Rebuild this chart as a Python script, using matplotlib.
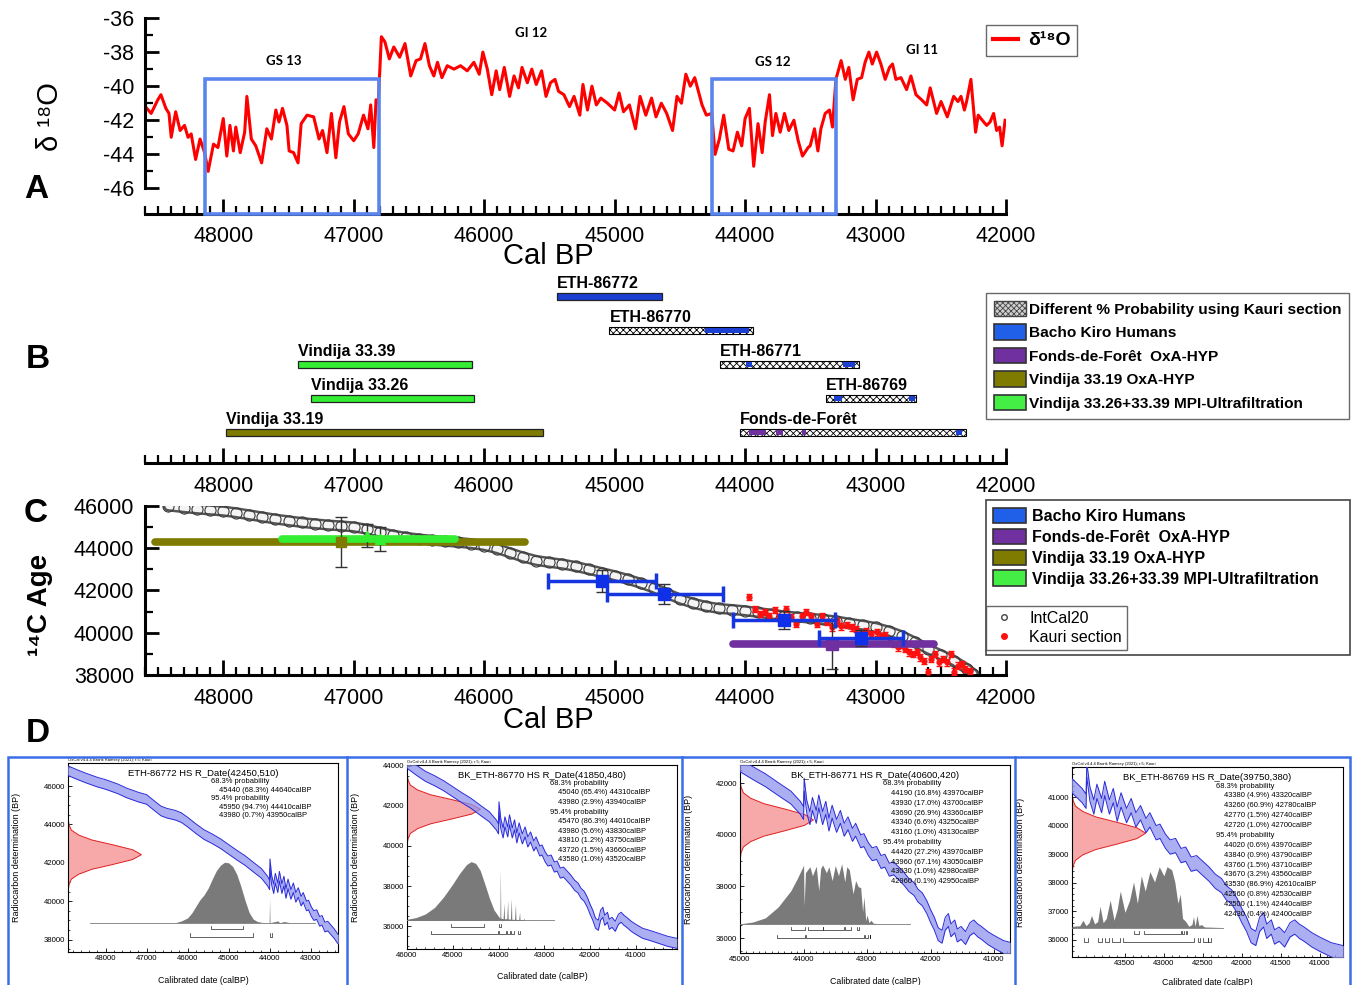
import numpy as np
import matplotlib
matplotlib.use("Agg")
import matplotlib.pyplot as plt
import matplotlib.transforms as mtransforms
from matplotlib.patches import Patch, Rectangle
from matplotlib.lines import Line2D
from matplotlib.ticker import FormatStrFormatter, MultipleLocator

plt.rcParams['font.family'] = ['Liberation Sans', 'DejaVu Sans']
plt.rcParams['axes.unicode_minus'] = False
plt.rcParams['hatch.linewidth'] = 0.6

W, H = 1354, 985

# ---------------- panel A: d18O record ----------------
D18O_RECORD = [
    (48597, -41.2), (48553, -41.6), (48502, -40.8), (48478, -40.5), (48440, -41.3), (48416, -41.6),
    (48399, -43.0), (48365, -41.5), (48331, -42.6), (48297, -42.3), (48270, -43.0), (48246, -42.8),
    (48212, -44.3), (48178, -43.1), (48143, -43.9), (48116, -45.0), (48075, -43.4), (48041, -43.6),
    (48000, -41.9), (47973, -44.1), (47949, -42.3), (47922, -43.8), (47904, -42.4), (47870, -43.9),
    (47836, -42.7), (47819, -40.6), (47785, -43.1), (47751, -43.5), (47706, -44.5), (47666, -42.5),
    (47631, -43.1), (47597, -41.4), (47573, -42.1), (47546, -41.3), (47512, -42.3), (47495, -43.8),
    (47461, -43.9), (47427, -44.5), (47403, -42.2), (47358, -41.7), (47307, -41.8), (47266, -43.1),
    (47239, -42.6), (47205, -43.9), (47171, -41.6), (47137, -44.2), (47109, -42.1), (47075, -41.2),
    (47041, -42.8), (47000, -43.2), (46966, -42.8), (46925, -41.7), (46891, -42.5), (46870, -41.1),
    (46846, -43.6), (46829, -40.8), (46812, -41.0), (46788, -37.1), (46761, -37.4), (46727, -38.4),
    (46693, -37.7), (46648, -38.3), (46607, -37.5), (46563, -39.4), (46522, -38.5), (46488, -38.4),
    (46454, -37.5), (46420, -38.8), (46386, -39.4), (46358, -38.6), (46324, -39.5), (46283, -38.8),
    (46232, -39.0), (46181, -38.8), (46130, -39.1), (46079, -38.6), (46038, -39.3), (46010, -38.0),
    (45976, -39.0), (45942, -40.5), (45908, -39.1), (45881, -40.2), (45846, -38.9), (45805, -40.6),
    (45771, -39.4), (45737, -40.1), (45710, -38.9), (45669, -39.8), (45635, -39.0), (45601, -39.9),
    (45560, -39.1), (45526, -40.6), (45492, -39.8), (45457, -39.6), (45430, -40.3), (45389, -40.5),
    (45346, -41.2), (45311, -40.6), (45267, -41.7), (45243, -39.9), (45208, -41.4), (45174, -40.0),
    (45140, -41.1), (45106, -40.7), (45055, -41.0), (45000, -41.4), (44966, -40.4), (44932, -41.5),
    (44887, -41.1), (44840, -42.5), (44805, -40.6), (44761, -41.7), (44717, -40.7), (44683, -41.8),
    (44642, -41.0), (44601, -41.6), (44556, -42.6), (44522, -40.6), (44488, -41.0), (44454, -39.3),
    (44420, -40.0), (44386, -39.5), (44330, -41.1), (44297, -41.7), (44256, -41.6), (44230, -44.0),
    (44197, -43.1), (44164, -41.7), (44125, -43.7), (44092, -43.8), (44059, -42.7), (44026, -43.5),
    (44000, -41.9), (43967, -41.3), (43934, -44.7), (43901, -42.2), (43869, -43.9), (43846, -42.1),
    (43813, -40.5), (43790, -42.9), (43764, -41.6), (43731, -42.7), (43698, -41.6), (43665, -42.6),
    (43626, -42.0), (43593, -43.2), (43560, -44.1), (43517, -43.6), (43501, -43.5), (43468, -42.5),
    (43442, -43.8), (43419, -42.5), (43386, -41.6), (43353, -41.4), (43330, -42.4), (43304, -39.6),
    (43264, -38.5), (43232, -39.6), (43205, -38.9), (43172, -40.8), (43140, -39.6), (43107, -39.5),
    (43080, -38.6), (43051, -38.0), (43025, -38.7), (42992, -38.0), (42959, -38.7), (42926, -39.6),
    (42893, -38.9), (42870, -38.7), (42844, -39.6), (42805, -39.5), (42762, -40.2), (42729, -39.4),
    (42690, -40.5), (42647, -40.8), (42608, -41.1), (42581, -40.1), (42532, -41.6), (42498, -40.9),
    (42450, -41.8), (42401, -40.6), (42368, -40.9), (42345, -40.6), (42319, -41.4), (42302, -40.9),
    (42269, -39.6), (42233, -42.7), (42213, -41.7), (42171, -42.1), (42148, -42.3), (42122, -42.1),
    (42095, -41.6), (42072, -42.6), (42049, -42.4), (42030, -43.5), (42007, -42.0),
]
d18o_year = [p[0] for p in D18O_RECORD]
d18o_val = [p[1] for p in D18O_RECORD]

stadial_start = [48140, 44250]
stadial_end = [46810, 43305]
stadial_top = -39.6
event_names = ['GS 13', 'GI 12', 'GS 12', 'GI 11']
event_year = [47540, 45640, 43790, 42640]
event_level = [-38.5, -36.9, -38.6, -37.9]

# ---------------- panel B: calibrated ranges ----------------
b_names = ['ETH-86772', 'ETH-86770', 'Vindija 33.39', 'ETH-86771',
           'Vindija 33.26', 'ETH-86769', 'Vindija 33.19', 'Fonds-de-Forêt']
b_old = [45440, 45040, 47430, 44190, 47330, 43380, 47980, 44040]
b_young = [44640, 43940, 46090, 43130, 46080, 42690, 45550, 42310]
b_row = [4, 3, 2, 2, 1, 1, 0, 0]
b_kind = ['bacho', 'kauri', 'mpi', 'kauri', 'mpi', 'kauri', 'v19', 'kauri']

seg_row = [3, 2, 2, 1, 1, 0, 0, 0, 0]
seg_old = [44310, 43990, 43250, 43320, 42740, 43970, 43760, 43560, 42380]
seg_young = [43970, 43950, 43160, 43260, 42700, 43840, 43710, 43530, 42340]
seg_kind = ['bacho', 'bacho', 'bacho', 'bacho', 'bacho', 'fonds', 'fonds', 'fonds', 'bacho']

# ---------------- panel C: IntCal20, Kauri and dated samples ----------------
INTCAL20 = [
    (48420, 46000, 280), (48300, 45920, 280), (48200, 45860, 280), (48100, 45810, 280),
    (48000, 45760, 280), (47900, 45680, 270), (47800, 45580, 270), (47700, 45480, 260),
    (47600, 45380, 260), (47500, 45300, 250), (47400, 45220, 250), (47300, 45160, 240),
    (47200, 45100, 240), (47100, 45060, 230), (47000, 45010, 230), (46900, 44900, 220),
    (46800, 44760, 210), (46700, 44620, 200), (46600, 44520, 190), (46500, 44440, 180),
    (46400, 44380, 170), (46300, 44330, 160), (46200, 44280, 150), (46100, 44220, 150),
    (46000, 44130, 140), (45900, 43980, 130), (45800, 43780, 130), (45700, 43580, 120),
    (45600, 43420, 120), (45500, 43330, 120), (45400, 43250, 120), (45300, 43140, 110),
    (45200, 43000, 110), (45100, 42850, 110), (45000, 42700, 110), (44900, 42530, 100),
    (44800, 42340, 100), (44700, 42120, 100), (44600, 41860, 100), (44500, 41600, 100),
    (44400, 41400, 100), (44300, 41250, 90), (44200, 41150, 90), (44100, 41100, 90),
    (44000, 41040, 90), (43900, 40960, 90), (43800, 40880, 90), (43700, 40800, 90),
    (43600, 40740, 90), (43500, 40690, 90), (43400, 40630, 90), (43300, 40560, 90),
    (43200, 40450, 90), (43100, 40360, 90), (43000, 40250, 90), (42900, 40080, 90),
    (42800, 39860, 90), (42700, 39560, 90), (42600, 39240, 90), (42500, 38960, 90),
    (42400, 38680, 90), (42300, 38300, 90), (42250, 38050, 90),
]
intcal_year = [p[0] for p in INTCAL20]
intcal_age = [p[1] for p in INTCAL20]
intcal_err = [p[2] for p in INTCAL20]

KAURI = [
    (43967, 41707), (43921, 41123), (43885, 40886), (43846, 40997), (43813, 40808), (43770, 41091),
    (43737, 40729), (43688, 41123), (43649, 40729), (43606, 40413), (43567, 40776), (43534, 40997),
    (43491, 40808), (43452, 40413), (43409, 40776), (43369, 40524), (43337, 40256), (43297, 40571),
    (43264, 40303), (43222, 40366), (43179, 40256), (43146, 40177), (43113, 39987), (43074, 40098),
    (43034, 39940), (42992, 40019), (42959, 39861), (42926, 39893), (42893, 39625), (42860, 39467),
    (42828, 39309), (42805, 39420), (42772, 39230), (42746, 39073), (42713, 38994), (42686, 39104),
    (42663, 38836), (42630, 38678), (42598, 38126), (42575, 38757), (42542, 38994), (42516, 38599),
    (42483, 38757), (42450, 38599), (42424, 38994), (42401, 38158), (42368, 38442), (42335, 38520),
    (42312, 38284), (42279, 38205),
]
kauri_year = [p[0] for p in KAURI]
kauri_age = [p[1] for p in KAURI]
kauri_err = 150

bacho_names = ['ETH-86772', 'ETH-86770', 'ETH-86771', 'ETH-86769']
bacho_age = [42450, 41850, 40600, 39750]
bacho_err = [510, 480, 420, 380]
bacho_cal = [45100, 44620, 43700, 43110]
bacho_cal_old = [45510, 45060, 44090, 43430]
bacho_cal_young = [44680, 44170, 43310, 42790]

v19_cal, v19_age, v19_err = 47100, 44290, 1190
v19_old, v19_young = 48520, 45690
mpi_cal = [46900, 46800]
mpi_age = [44600, 44450]
mpi_err = [560, 560]
mpi_old, mpi_young, mpi_level = 47550, 46220, 44460
fonds_cal, fonds_age, fonds_err = 43330, 39470, 1170
fonds_old, fonds_young = 44090, 42550

# ---------------- panel D: OxCal calibrations ----------------
CAL_CURVE = [
    (49000, 46870), (48700, 46600), (48500, 46430), (48200, 46200), (48000, 46080), (47700, 45850),
    (47500, 45650), (47200, 45420), (47000, 45300), (46800, 44950), (46650, 44700), (46500, 44580),
    (46300, 44480), (46150, 44350), (46000, 44120), (45800, 43780), (45600, 43470), (45400, 43250),
    (45200, 43000), (45000, 42700), (44800, 42400), (44600, 42120), (44400, 41780), (44200, 41450),
    (44050, 41050), (44000, 40850), (43990, 41950), (43950, 41100), (43900, 40650), (43860, 41200),
    (43800, 40700), (43760, 41300), (43700, 40650), (43650, 41050), (43600, 40400), (43550, 40900),
    (43480, 40350), (43420, 40700), (43360, 40200), (43300, 40450), (43230, 40000), (43180, 40200),
    (43100, 39750), (43050, 39800), (42980, 39450), (42920, 39250), (42850, 39300), (42780, 38950),
    (42720, 39000), (42650, 38650), (42580, 38700), (42500, 38500), (42420, 38300), (42340, 38050),
    (42260, 37900), (42200, 37650), (42130, 37500), (42060, 37200), (42000, 36850), (41940, 36550),
    (41880, 36150), (41820, 36050), (41770, 36550), (41720, 36700), (41680, 36300), (41620, 36450),
    (41580, 36100), (41520, 36200), (41450, 36000), (41380, 36350), (41320, 36450), (41260, 36300),
    (41200, 36200), (41100, 36000), (41000, 35850), (40850, 35650), (40700, 35550), (40500, 35400),
    (40300, 35250), (40100, 35150),
]
cal_year = np.array([p[0] for p in CAL_CURVE])
cal_age = np.array([p[1] for p in CAL_CURVE])
cal_sigma = 250

# shape of the radiocarbon likelihood (offset in sigma, relative height)
red_offset = [-3.4, -3.0, -2.5, -2.0, -1.5, -1.0, -0.5, 0.0, 0.5, 1.0, 1.5, 2.0, 2.5, 3.0, 3.4]
red_height = [0.0, 0.01, 0.04, 0.14, 0.32, 0.61, 0.88, 1.0, 0.88, 0.61, 0.32, 0.14, 0.04, 0.01, 0.0]

POST_1 = [(48390, 0), (46300, 0), (46150, 0.03), (46000, 0.08), (45900, 0.16), (45800, 0.27),
          (45700, 0.38), (45600, 0.46), (45500, 0.57), (45400, 0.72), (45300, 0.86), (45200, 0.95),
          (45100, 1.0), (45000, 0.99), (44900, 0.93), (44800, 0.8), (44700, 0.6), (44600, 0.37),
          (44500, 0.17), (44400, 0.06), (44300, 0.02), (44150, 0.0), (44010, 0.0), (44000, 0.4),
          (43990, 0.0), (43800, 0.03), (43750, 0.0), (43650, 0.02), (43500, 0.0), (42900, 0.0)]
POST_2 = [(46000, 0.02), (45800, 0.05), (45600, 0.11), (45400, 0.22), (45200, 0.4), (45000, 0.62),
          (44850, 0.8), (44700, 0.95), (44600, 1.0), (44500, 0.97), (44400, 0.85), (44300, 0.62),
          (44200, 0.38), (44100, 0.18), (44000, 0.07), (43970, 0.04), (43960, 0.88), (43950, 0.04),
          (43900, 0.03), (43880, 0.3), (43870, 0.03), (43820, 0.03), (43800, 0.35), (43790, 0.03),
          (43740, 0.02), (43720, 0.38), (43710, 0.02), (43650, 0.02), (43630, 0.28), (43620, 0.02),
          (43560, 0.01), (43540, 0.14), (43530, 0.01), (43450, 0.01), (43440, 0.05), (43430, 0.0),
          (43300, 0.0), (43290, 0.02), (43280, 0.0), (42790, 0.0)]
POST_3 = [(45000, 0.0), (44800, 0.03), (44600, 0.1), (44400, 0.28), (44200, 0.55), (44100, 0.75),
          (44010, 0.95), (44000, 0.98), (43990, 0.3), (43970, 0.85), (43900, 0.95), (43860, 0.8),
          (43800, 0.96), (43760, 0.55), (43730, 0.92), (43700, 0.98), (43640, 0.85), (43600, 0.95),
          (43550, 0.72), (43500, 0.97), (43450, 0.8), (43400, 1.0), (43350, 0.7), (43320, 0.95),
          (43280, 0.9), (43220, 0.5), (43180, 0.72), (43140, 0.62), (43100, 0.6), (43070, 0.2),
          (43050, 0.45), (43020, 0.05), (43000, 0.15), (42970, 0.02), (42940, 0.06), (42900, 0.01),
          (42800, 0.0), (42330, 0.0)]
POST_4 = [(44180, 0.02), (44080, 0.03), (44040, 0.12), (44000, 0.03), (43960, 0.08), (43930, 0.2),
          (43890, 0.06), (43850, 0.1), (43820, 0.35), (43780, 0.08), (43740, 0.15), (43690, 0.45),
          (43640, 0.12), (43600, 0.3), (43560, 0.6), (43500, 0.25), (43440, 0.45), (43390, 0.75),
          (43340, 0.4), (43290, 0.85), (43240, 0.6), (43180, 0.92), (43120, 0.75), (43060, 1.0),
          (43000, 0.85), (42960, 1.0), (42900, 0.95), (42860, 0.75), (42820, 0.4), (42790, 0.55),
          (42760, 0.15), (42720, 0.1), (42680, 0.02), (42640, 0.05), (42620, 0.18), (42600, 0.02),
          (42575, 0.2), (42550, 0.03), (42520, 0.05), (42480, 0.01), (42240, 0.0)]

d_titles = ['ETH-86772', 'BK_ETH-86770', 'BK_ETH-86771', 'BK_ETH-86769']
d_r68 = [
    [(45440, '68.3', 44640)],
    [(45040, '65.4', 44310), (43980, '2.9', 43940)],
    [(44190, '16.8', 43970), (43930, '17.0', 43700), (43690, '26.9', 43360), (43340, '6.6', 43250),
     (43160, '1.0', 43130)],
    [(43380, '4.9', 43320), (43260, '60.9', 42780), (42770, '1.5', 42740), (42720, '1.0', 42700)],
]
d_r95 = [
    [(45950, '94.7', 44410), (43980, '0.7', 43950)],
    [(45470, '86.3', 44010), (43980, '5.6', 43830), (43810, '1.2', 43750), (43720, '1.5', 43660),
     (43580, '1.0', 43520)],
    [(44420, '27.2', 43970), (43960, '67.1', 43050), (43030, '1.0', 42980), (42960, '0.1', 42950)],
    [(44020, '0.6', 43970), (43840, '0.9', 43790), (43760, '1.5', 43710), (43670, '3.2', 43560),
     (43530, '86.9', 42610), (42560, '0.8', 42530), (42500, '1.1', 42440), (42430, '0.4', 42400)],
]
d_posterior = [POST_1, POST_2, POST_3, POST_4]
d_xlim = [(48920, 42330), (46000, 40100), (45000, 40750), (44180, 40700)]
d_ylim = [(37350, 47200), (34870, 44030), (35420, 42710), (35400, 42050)]
d_xticks = [range(48000, 42999, -1000), range(46000, 40999, -1000),
            range(45000, 40999, -1000), range(43500, 40999, -500)]
d_yticks = [range(38000, 46001, 2000), range(36000, 44001, 2000),
            range(36000, 42001, 2000), range(36000, 41001, 1000)]

COL = {'bacho': '#1c3fd3', 'fonds': '#7030a0', 'v19': '#7f7a00', 'mpi': '#33ee33'}
LEG_COL = {'bacho': '#2060e8', 'fonds': '#7030a0', 'v19': '#7f7a00', 'mpi': '#44ee44'}


fig = plt.figure(figsize=(W / 100, H / 100), dpi=100)


def px_axes(left, top, right, bottom):
    return fig.add_axes([left / W, 1 - bottom / H, (right - left) / W, (bottom - top) / H])


def ftext(x, y, s, **kw):
    return fig.text(x / W, 1 - y / H, s, **kw)


def time_axis(ax):
    ax.set_xlim(48600, 42000)
    ax.set_xticks(range(48000, 41999, -1000))
    ax.set_xticks(np.arange(48600, 41999, -100), minor=True)
    ax.xaxis.set_major_formatter(FormatStrFormatter('%d'))
    ax.tick_params(axis='x', which='major', direction='in', length=11, width=2, labelsize=15.5, pad=9)
    ax.tick_params(axis='x', which='minor', direction='in', length=6, width=1.6)
    ax.spines['bottom'].set_linewidth(2.2)
    for s in ['top', 'right']:
        ax.spines[s].set_visible(False)


# ---- A ----
axA = px_axes(145, 18, 1006, 214)
axA.plot(d18o_year, d18o_val, color='#ff0000', lw=2.2, zorder=2)
for s, e in zip(stadial_start, stadial_end):
    axA.add_patch(Rectangle((e, -47.5), s - e, stadial_top + 47.5, fill=False,
                            edgecolor='#5a85ee', lw=2.6, zorder=3, clip_on=False))
for name, x, y in zip(event_names, event_year, event_level):
    axA.text(x, y, name, ha='center', va='center', fontsize=9.5, fontweight='bold', family='Lato')
time_axis(axA)
axA.set_ylim(-47.5, -36)
axA.spines['left'].set_bounds(-46, -36)
axA.spines['left'].set_linewidth(2.2)
axA.set_yticks(range(-46, -35, 2))
axA.set_yticks(range(-45, -36, 2), minor=True)
axA.tick_params(axis='y', which='major', direction='in', length=10, width=2, labelsize=15.5, pad=8)
axA.tick_params(axis='y', which='minor', direction='in', length=6, width=1.6)
ftext(50, 117, 'δ ¹⁸O', rotation=90, ha='center', va='center', fontsize=21)
ftext(548, 256, 'Cal BP', ha='center', va='center', fontsize=21)

fig.legend([Line2D([], [], color='#ff0000', lw=3)], ['δ¹⁸O'], loc='upper left',
           bbox_to_anchor=(986 / W, 1 - 25 / H), borderaxespad=0, frameon=True, fancybox=False,
           edgecolor='#444444', handlelength=1.3, prop={'weight': 'bold', 'size': 14},
           borderpad=0.35, handletextpad=0.5)

# ---- B ----
axB = px_axes(145, 276, 1006, 463)
for name, old, young, row, kind in zip(b_names, b_old, b_young, b_row, b_kind):
    if kind == 'kauri':
        axB.barh(row, young - old, left=old, height=0.2, color='white', edgecolor='black',
                 hatch='xxxxx', lw=0.8, zorder=2)
    else:
        axB.barh(row, young - old, left=old, height=0.2, color=COL[kind], edgecolor='#222222',
                 lw=0.9, zorder=2)
    axB.text(old, row + 0.38, name, ha='left', va='center', fontsize=11.5, fontweight='bold')
for row, old, young, kind in zip(seg_row, seg_old, seg_young, seg_kind):
    axB.barh(row, young - old, left=old, height=0.16, color=COL[kind], edgecolor='none', zorder=3)
time_axis(axB)
axB.set_ylim(-0.9, 4.6)
axB.spines['left'].set_visible(False)
axB.set_yticks([])

kauri_patch = Patch(facecolor='#cfcfcf', edgecolor='#444444', hatch='xxxxxx', lw=1)
legB_handles = [kauri_patch] + [Patch(facecolor=LEG_COL[k], edgecolor='#333333', lw=1.2)
                                for k in ['bacho', 'fonds', 'v19', 'mpi']]
legB_labels = ['Different % Probability using Kauri section', 'Bacho Kiro Humans',
               'Fonds-de-Forêt  OxA-HYP', 'Vindija 33.19 OxA-HYP',
               'Vindija 33.26+33.39 MPI-Ultrafiltration']
fig.legend(legB_handles, legB_labels, loc='upper left', bbox_to_anchor=(986 / W, 1 - 293 / H),
           borderaxespad=0, frameon=True, fancybox=False, edgecolor='#444444',
           prop={'weight': 'bold', 'size': 11.1}, handlelength=2.1, handleheight=1.15,
           handletextpad=0.2, labelspacing=0.5, borderpad=0.5)

# ---- C ----
axC = px_axes(145, 506, 1006, 675)
axC.errorbar(intcal_year, intcal_age, yerr=intcal_err, fmt='none', ecolor='#9a9a9a',
             elinewidth=0.6, zorder=1)
axC.plot(intcal_year, intcal_age, color='#555555', lw=8, solid_capstyle='round', zorder=2)
axC.plot(intcal_year, intcal_age, color='#f4f4f4', lw=4.5, solid_capstyle='round', zorder=2)
axC.plot(intcal_year, intcal_age, ls='none', marker='o', ms=8, mfc='none', mec='#3a3a3a',
         mew=0.8, zorder=2)
axC.errorbar(kauri_year, kauri_age, yerr=kauri_err, fmt='o', ms=3.5, color='#ff1010',
             ecolor='#ff1010', elinewidth=1, capsize=2, zorder=4)

axC.plot([v19_old, v19_young], [v19_age, v19_age], color=COL['v19'], lw=5.5,
         solid_capstyle='round', zorder=5)
axC.errorbar([v19_cal], [v19_age], yerr=[v19_err], fmt='s', ms=7, color=COL['v19'],
             ecolor='#333333', elinewidth=1, capsize=4, zorder=6)
axC.plot([mpi_old, mpi_young], [mpi_level, mpi_level], color=COL['mpi'], lw=5.5,
         solid_capstyle='round', zorder=5)
axC.errorbar(mpi_cal, mpi_age, yerr=mpi_err, fmt='^', ms=7, color=COL['mpi'],
             ecolor='#333333', elinewidth=1, capsize=4, zorder=6)
axC.plot([fonds_old, fonds_young], [fonds_age, fonds_age], color=COL['fonds'], lw=5.5,
         solid_capstyle='round', zorder=5)
axC.errorbar([fonds_cal], [fonds_age], yerr=[fonds_err], fmt='s', ms=8, color=COL['fonds'],
             ecolor='#333333', elinewidth=1, capsize=4, zorder=6)

bc = np.array(bacho_cal)
lo = bc - np.minimum(bacho_cal_old, bacho_cal_young)
hi = np.maximum(bacho_cal_old, bacho_cal_young) - bc
axC.errorbar(bacho_cal, bacho_age, yerr=bacho_err, fmt='none', ecolor='#333333',
             elinewidth=1, capsize=4, zorder=6)
axC.errorbar(bacho_cal, bacho_age, xerr=[lo, hi], fmt='s', ms=9, color='#1030e8',
             ecolor='#1535e0', elinewidth=2.5, capsize=6, capthick=2.5, zorder=7)

time_axis(axC)
axC.set_ylim(38000, 46000)
axC.spines['left'].set_linewidth(2.2)
axC.set_yticks(range(38000, 46001, 2000))
axC.set_yticks(range(39000, 46000, 2000), minor=True)
axC.tick_params(axis='y', which='major', direction='in', length=10, width=2, labelsize=15.5, pad=8)
axC.tick_params(axis='y', which='minor', direction='in', length=6, width=1.6)
ftext(40, 605, '¹⁴C Age', rotation=90, ha='center', va='center', fontsize=20, fontweight='bold')
ftext(548, 720, 'Cal BP', ha='center', va='center', fontsize=21)

fig.add_artist(Rectangle((986 / W, 1 - 655 / H), (1350 - 986) / W, (655 - 500) / H,
                         transform=fig.transFigure, fill=False, edgecolor='#444444', lw=1.2))
legC_handles = [Patch(facecolor=LEG_COL[k], edgecolor='#333333', lw=1.2)
                for k in ['bacho', 'fonds', 'v19', 'mpi']]
fig.legend(legC_handles, legB_labels[1:], loc='upper left', bbox_to_anchor=(988 / W, 1 - 503 / H),
           borderaxespad=0, frameon=False, prop={'weight': 'bold', 'size': 11.5},
           handlelength=2.1, handleheight=1.1, handletextpad=0.35, labelspacing=0.3, borderpad=0.3)
fig.legend([Line2D([], [], ls='none', marker='o', ms=4, mfc='white', mec='#444444'),
            Line2D([], [], ls='none', marker='o', ms=4, mfc='#ff1010', mec='#ff1010')],
           ['IntCal20', 'Kauri section'], loc='upper left', bbox_to_anchor=(986 / W, 1 - 606 / H),
           borderaxespad=0, frameon=True, fancybox=False, edgecolor='#444444',
           prop={'size': 11.5}, handlelength=1.6, labelspacing=0.25, borderpad=0.3)

# ---- D ----
d_rects = [(68, 763, 338, 952), (407, 765, 677, 949), (740, 765, 1010, 953), (1072, 767, 1343, 957)]
for i, rect in enumerate(d_rects):
    ax = px_axes(*rect)
    mean, sd = bacho_age[i], bacho_err[i]
    tyA = mtransforms.blended_transform_factory(ax.transAxes, ax.transData)
    tyD = mtransforms.blended_transform_factory(ax.transData, ax.transAxes)
    r_age = mean + np.array(red_offset) * sd
    ax.fill_betweenx(r_age, 0, np.array(red_height) * 0.27, transform=tyA,
                     facecolor='#f7a8a8', edgecolor='#e02020', lw=0.7, zorder=2)
    ax.fill_between(cal_year, cal_age - cal_sigma, cal_age + cal_sigma, color='#8f95ee',
                    alpha=0.75, lw=0, zorder=3)
    ax.plot(cal_year, cal_age + cal_sigma, color='#2a2ad8', lw=0.7, zorder=3)
    ax.plot(cal_year, cal_age - cal_sigma, color='#2a2ad8', lw=0.7, zorder=3)
    gy = [p[0] for p in d_posterior[i]]
    gh = np.array([p[1] for p in d_posterior[i]])
    base = 0.155
    ax.fill_between(gy, base, base + gh * 0.32, transform=tyD, color='#7a7a7a', lw=0, zorder=4)
    ax.plot([gy[0], gy[-1]], [base, base], transform=tyD, color='#7a7a7a', lw=0.6, zorder=4)
    for k, ranges in enumerate([d_r68[i], d_r95[i]]):
        yb = base - 0.035 - 0.04 * k
        for a, p, b in ranges:
            ax.plot([a, a, b, b], [yb + 0.018, yb, yb, yb + 0.018], transform=tyD,
                    color='#222222', lw=0.5, zorder=4)
    lines = [('68.3% probability', 0.53)]
    lines += [(f'{a} ({p}%) {b}calBP', 0.56) for a, p, b in d_r68[i]]
    lines += [('95.4% probability', 0.53)]
    lines += [(f'{a} ({p}%) {b}calBP', 0.56) for a, p, b in d_r95[i]]
    step = 0.045 if i == 0 else 0.052
    for j, (txt, x0) in enumerate(lines):
        ax.text(x0, 0.9 - step * j, txt, transform=ax.transAxes, fontsize=5.4, va='center',
                zorder=6)
    ax.text(0.5, 0.945, f'{d_titles[i]} HS R_Date({mean},{sd})', transform=ax.transAxes,
            ha='center', va='center', fontsize=6.8, zorder=6)
    ax.text(0.0, 1.005, 'OxCal v4.4.4 Bronk Ramsey (2021); r:5; Kauri', transform=ax.transAxes,
            ha='left', va='bottom', fontsize=3)
    ax.set_xlim(*d_xlim[i])
    ax.set_ylim(*d_ylim[i])
    ax.set_xticks(list(d_xticks[i]))
    ax.set_yticks(list(d_yticks[i]))
    ax.xaxis.set_minor_locator(MultipleLocator(100 if i >= 2 else 200))
    ax.yaxis.set_minor_locator(MultipleLocator(200 if i == 3 else 500))
    ax.tick_params(which='major', direction='in', length=3, width=0.6, labelsize=5.6, pad=2)
    ax.tick_params(which='minor', direction='in', length=1.5, width=0.5)
    for s in ax.spines.values():
        s.set_linewidth(0.8)
    ax.set_ylabel('Radiocarbon determination (BP)', fontsize=6.5)
    ax.yaxis.set_label_coords(-0.175, 0.5)
    ax.set_xlabel('Calibrated date (calBP)', fontsize=6.3)
    ax.xaxis.set_label_coords(0.5, -0.11 if i == 3 else -0.125)

# blue frame around panel D
fig.add_artist(Rectangle((8 / W, -0.01), (1350 - 8) / W, 0.01 + 1 - 757 / H,
                         transform=fig.transFigure, fill=False, edgecolor='#3a6ee6', lw=1.8))
for xd in [347, 682, 1015]:
    fig.add_artist(Line2D([xd / W, xd / W], [0, 1 - 757 / H], transform=fig.transFigure,
                          color='#3a6ee6', lw=1.8))

for letter, x, y in [('A', 36, 190), ('B', 38, 360), ('C', 36, 513), ('D', 38, 733)]:
    ftext(x, y, letter, ha='center', va='center', fontsize=24, fontweight='bold')

fig.savefig('out.png', dpi=100)
